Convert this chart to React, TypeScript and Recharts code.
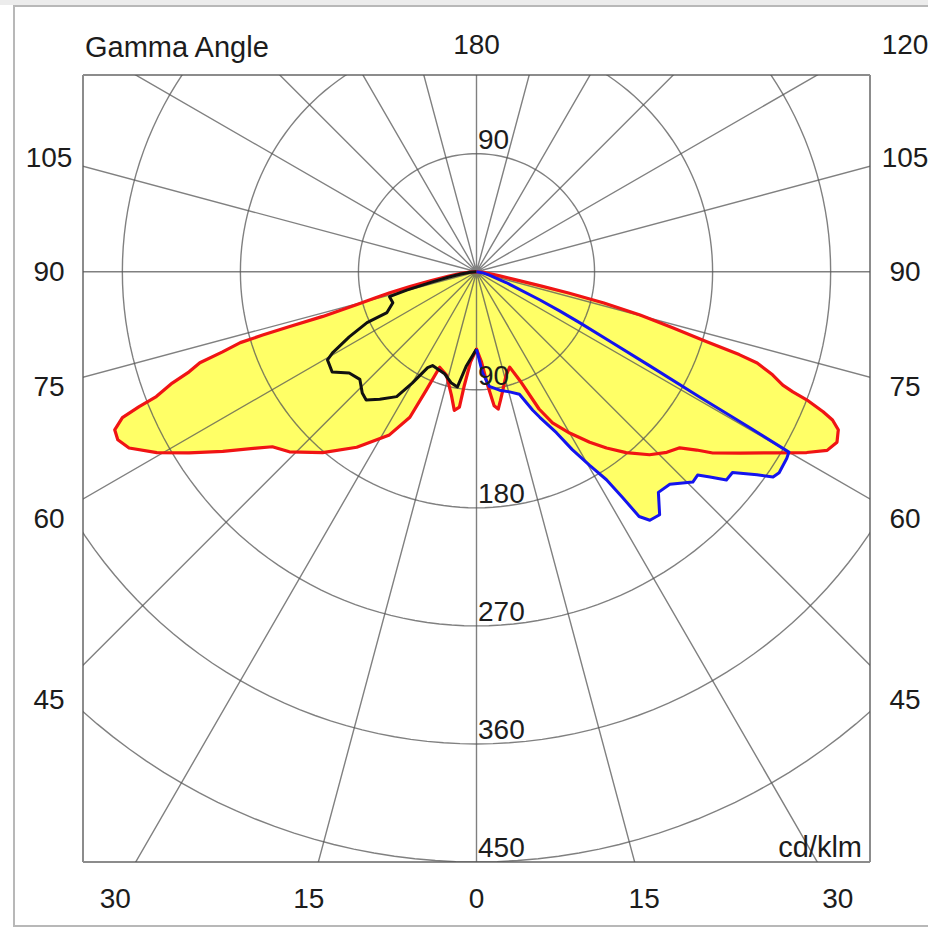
import React from 'react';
import { ScatterChart, Scatter, XAxis, YAxis } from 'recharts';

// ---------------- data (gamma in degrees, intensity in cd/klm) ----------------
// C0 plane (right half of the red curve)
const redRightGamma = [0, 3.2, 5.6, 7.5, 9, 10.5, 12.1, 16, 19.2, 21.7, 24.5, 26.7, 30, 33.6, 36.4, 39.6, 43.4, 46.5, 49.1, 51, 52.5, 55.5, 58.6, 61.3, 63, 64.7, 66.4, 67.4, 68, 68.8, 69.2, 69.7, 70.8, 72, 72.5, 73.1, 74.1, 75.2, 76.2, 77, 77.6, 78.5, 80, 84, 90];
const redRightI = [59, 69, 87, 103, 106, 100, 94, 82, 77, 89, 115, 129, 142, 156, 167, 179, 192, 200, 205, 216, 227, 244, 265, 287, 300, 304, 301, 294, 285, 270, 258, 249, 239, 225, 210, 183, 155, 129, 100, 72, 50, 30, 18, 7, 0];
// C180 plane (left half of the red curve)
const redLeftGamma = [0, 3.8, 6.1, 7.2, 9.1, 11.5, 16.2, 21.1, 23, 24.6, 28.1, 34.3, 40.4, 46.1, 49.4, 51.3, 54.7, 57.8, 60.5, 63.1, 64.9, 66.4, 67.6, 68.2, 68.7, 69.9, 70.8, 71.8, 72.5, 73.3, 73.5, 73.65, 73.8, 74.6, 75.5, 76.4, 77.4, 79, 81, 84, 87, 90];
const redLeftI = [59, 69, 87, 104, 107, 96, 82, 78, 98, 122, 141, 162, 181, 198, 205, 215, 237, 259, 280, 297, 302, 301, 292, 277, 262, 247, 232, 222, 203, 188, 170, 149, 122, 95, 80, 68, 52, 35, 22, 12, 5, 0];
// C90 plane (blue, right)
const blueGamma = [0, 3.4, 6.4, 11, 15.4, 19.3, 22.1, 23.5, 26.4, 28.3, 30.3, 32, 32.9, 33.6, 34.9, 37, 39.5, 42.3, 45.8, 47.4, 48.7, 50.2, 51.9, 54.1, 55.3, 56.4, 59, 60, 60.3, 60.7, 61.5, 62.5, 63.7, 64.8, 66, 70, 75, 80, 90];
const blueI = [59, 77, 88, 92, 95, 99, 114, 121, 137, 154, 171, 187, 205, 224, 231, 232, 218, 219, 230, 229, 237, 248, 248, 264, 275, 277, 276, 275, 240, 195, 150, 115, 88, 70, 53, 24, 10, 5, 0];
// C270 plane (black, left)
const blackGamma = [0, 6.1, 9.4, 12.7, 17.4, 25.1, 27, 30, 32.6, 37.2, 40.7, 43.3, 47.3, 51.5, 55.2, 59.4, 60.6, 62.9, 65.1, 65.5, 69.7, 74, 75.3, 77, 79, 82, 86, 90];
const blackI = [59, 72, 89, 87, 81.5, 79, 82, 98, 113, 122, 129, 127, 121, 124, 134, 132, 126, 109, 92, 75, 68, 69, 55, 35, 22, 12, 5, 0];

// grid / tick values
const ringValues = [90, 180, 270, 360, 450];
const upperRingLabels = [90];
const radialStep = 15;
const bottomGammaLabels = [-30, -15, 0, 15, 30];
const sideGammaLabels = [105, 90, 75, 60, 45];
const topGammaLabels = [180];

// ---------------- layout ----------------
const W = 928;
const H = 930;
const MARGIN = { top: 74, left: 82, right: 57, bottom: 67 };
const X_DOMAIN: [number, number] = [-300, 300];
const Y_DOMAIN: [number, number] = [-450, 150];
const BOTTOM_LABEL_DIST = 477; // data units from centre to the row of bottom labels
const SIDE_LABEL_DIST = 326.3; // data units from centre to the columns of side labels
const FONT = '"Liberation Sans", Arial, Helvetica, sans-serif';
const TEXT = '#1c1c1c';
const FS = 28;
const DEG = Math.PI / 180;

const YELLOW = '#ffff66';
const RED = '#f01414';
const BLUE = '#1414ee';
const BLACK = '#111111';

type P = { x: number; y: number; label?: string };

const polar = (g: number[], v: number[], side: number): P[] =>
  g.map((a, i) => ({ x: side * v[i] * Math.sin(a * DEG), y: -v[i] * Math.cos(a * DEG) }));

const redRightPts = polar(redRightGamma, redRightI, 1);
const redLeftPts = polar(redLeftGamma, redLeftI, -1);
const redPoly = [...redRightPts.slice().reverse(), ...redLeftPts];
const bluePts = polar(blueGamma, blueI, 1);
const blackPts = polar(blackGamma, blackI, -1);

const ringPts = ringValues.map((r) => {
  const pts: P[] = [];
  for (let a = 0; a <= 360; a += 2) pts.push({ x: r * Math.sin(a * DEG), y: r * Math.cos(a * DEG) });
  return pts;
});

const radialPts: P[] = [];
for (let a = 0; a < 360; a += radialStep) {
  radialPts.push({ x: 0, y: 0 });
  radialPts.push({ x: 1200 * Math.sin(a * DEG), y: -1200 * Math.cos(a * DEG) });
}
radialPts.push({ x: 0, y: 0 });

const ringLabelPts: P[] = [
  ...ringValues.map((r) => ({ x: 0, y: -r, label: String(r) })),
  ...upperRingLabels.map((r) => ({ x: 0, y: r, label: String(r) })),
];

const bottomTickPos = bottomGammaLabels.map((g) => Math.sign(g) * BOTTOM_LABEL_DIST * Math.tan(Math.abs(g) * DEG));
const sideTickPos = sideGammaLabels.map((g) => -SIDE_LABEL_DIST / Math.tan(g * DEG));
const topTickPos = topGammaLabels.map(() => 0);

const Empty = () => <g />;

const txt = (x: number, y: number, s: string | number, anchor: any = 'middle') => (
  <text x={x} y={y} textAnchor={anchor} dominantBaseline="central" fontSize={FS} fontFamily={FONT} fill={TEXT}>
    {s}
  </text>
);

const BottomTick = (p: any) => {
  const g = Math.round(Math.atan(Math.abs(p.payload.value) / BOTTOM_LABEL_DIST) / DEG);
  return txt(p.x, p.y + 36, g);
};
const LeftTick = (p: any) => {
  const g = Math.round(90 + Math.atan(p.payload.value / SIDE_LABEL_DIST) / DEG);
  return txt(p.x - 34, p.y, g);
};
const RightTick = (p: any) => {
  const g = Math.round(90 + Math.atan(p.payload.value / SIDE_LABEL_DIST) / DEG);
  return txt(p.x + 35, p.y, g);
};
const TopTick = (p: any) => txt(p.x, p.y - 31, topGammaLabels[p.index] ?? 180);

const RingLabel = (p: any) => (
  <text x={p.cx + 1.5} y={p.cy - 5} textAnchor="start" fontSize={FS} fontFamily={FONT} fill={TEXT}>
    {p.payload.label}
  </text>
);

const gridLine = { stroke: '#555555', strokeWidth: 1.4, strokeOpacity: 0.75, fill: 'none' };
const frameStroke = { stroke: '#8c8c8c', strokeWidth: 2 };

export default function App() {
  return (
    <div style={{ position: 'absolute', left: 0, top: 0, width: W, height: H, overflow: 'hidden', background: '#ffffff' }}>
      <div style={{ position: 'absolute', left: 0, top: 0, width: W, height: 5, background: '#ececec' }} />
      <div
        style={{
          position: 'absolute',
          left: 13,
          top: 5,
          width: 940,
          height: 922,
          border: '2px solid #b8b8b8',
          boxSizing: 'border-box',
        }}
      />
      <div style={{ position: 'absolute', left: 0, top: 0 }}>
        <ScatterChart width={W} height={H} margin={MARGIN}>
          <XAxis
            xAxisId="b"
            type="number"
            dataKey="x"
            domain={X_DOMAIN}
            allowDataOverflow
            height={1}
            ticks={bottomTickPos}
            interval={0}
            tickSize={0}
            tickMargin={0}
            tickLine={false}
            axisLine={frameStroke}
            tick={<BottomTick />}
          />
          <XAxis
            xAxisId="t"
            orientation="top"
            type="number"
            dataKey="x"
            domain={X_DOMAIN}
            allowDataOverflow
            height={1}
            ticks={topTickPos}
            interval={0}
            tickSize={0}
            tickMargin={0}
            tickLine={false}
            axisLine={frameStroke}
            tick={<TopTick />}
          />
          <YAxis
            yAxisId="l"
            type="number"
            dataKey="y"
            domain={Y_DOMAIN}
            allowDataOverflow
            width={1}
            ticks={sideTickPos}
            interval={0}
            tickSize={0}
            tickMargin={0}
            tickLine={false}
            axisLine={frameStroke}
            tick={<LeftTick />}
          />
          <YAxis
            yAxisId="r"
            orientation="right"
            type="number"
            dataKey="y"
            domain={Y_DOMAIN}
            allowDataOverflow
            width={1}
            ticks={sideTickPos}
            interval={0}
            tickSize={0}
            tickMargin={0}
            tickLine={false}
            axisLine={frameStroke}
            tick={<RightTick />}
          />

          {/* fills */}
          <Scatter xAxisId="b" yAxisId="l" data={redPoly} shape={<Empty />} line={{ fill: YELLOW, stroke: 'none' }} isAnimationActive={false} />
          <Scatter xAxisId="b" yAxisId="l" data={bluePts} shape={<Empty />} line={{ fill: YELLOW, stroke: 'none' }} isAnimationActive={false} />

          {/* polar grid */}
          {ringPts.map((pts, i) => (
            <Scatter key={'ring' + i} xAxisId="b" yAxisId="l" data={pts} shape={<Empty />} line={gridLine} isAnimationActive={false} />
          ))}
          <Scatter xAxisId="b" yAxisId="l" data={radialPts} shape={<Empty />} line={gridLine} isAnimationActive={false} />

          {/* curves */}
          <Scatter xAxisId="b" yAxisId="l" data={redPoly} shape={<Empty />} line={{ stroke: RED, strokeWidth: 3.2, fill: 'none', strokeLinejoin: 'round' }} isAnimationActive={false} />
          <Scatter xAxisId="b" yAxisId="l" data={blackPts} shape={<Empty />} line={{ stroke: BLACK, strokeWidth: 3, fill: 'none', strokeLinejoin: 'round' }} isAnimationActive={false} />
          <Scatter xAxisId="b" yAxisId="l" data={bluePts} shape={<Empty />} line={{ stroke: BLUE, strokeWidth: 3, fill: 'none', strokeLinejoin: 'round' }} isAnimationActive={false} />

          {/* ring labels */}
          <Scatter xAxisId="b" yAxisId="l" data={ringLabelPts} shape={<RingLabel />} isAnimationActive={false} />
        </ScatterChart>
      </div>
      <svg width={W} height={H} style={{ position: 'absolute', left: 0, top: 0, pointerEvents: 'none' }}>
        <text x={85} y={57} fontSize={29} fontFamily={FONT} fill={TEXT}>
          Gamma Angle
        </text>
        <text x={905} y={54} textAnchor="middle" fontSize={FS} fontFamily={FONT} fill={TEXT}>
          120
        </text>
        <text x={862} y={857} textAnchor="end" fontSize={29} fontFamily={FONT} fill={TEXT}>
          cd/klm
        </text>
      </svg>
    </div>
  );
}
